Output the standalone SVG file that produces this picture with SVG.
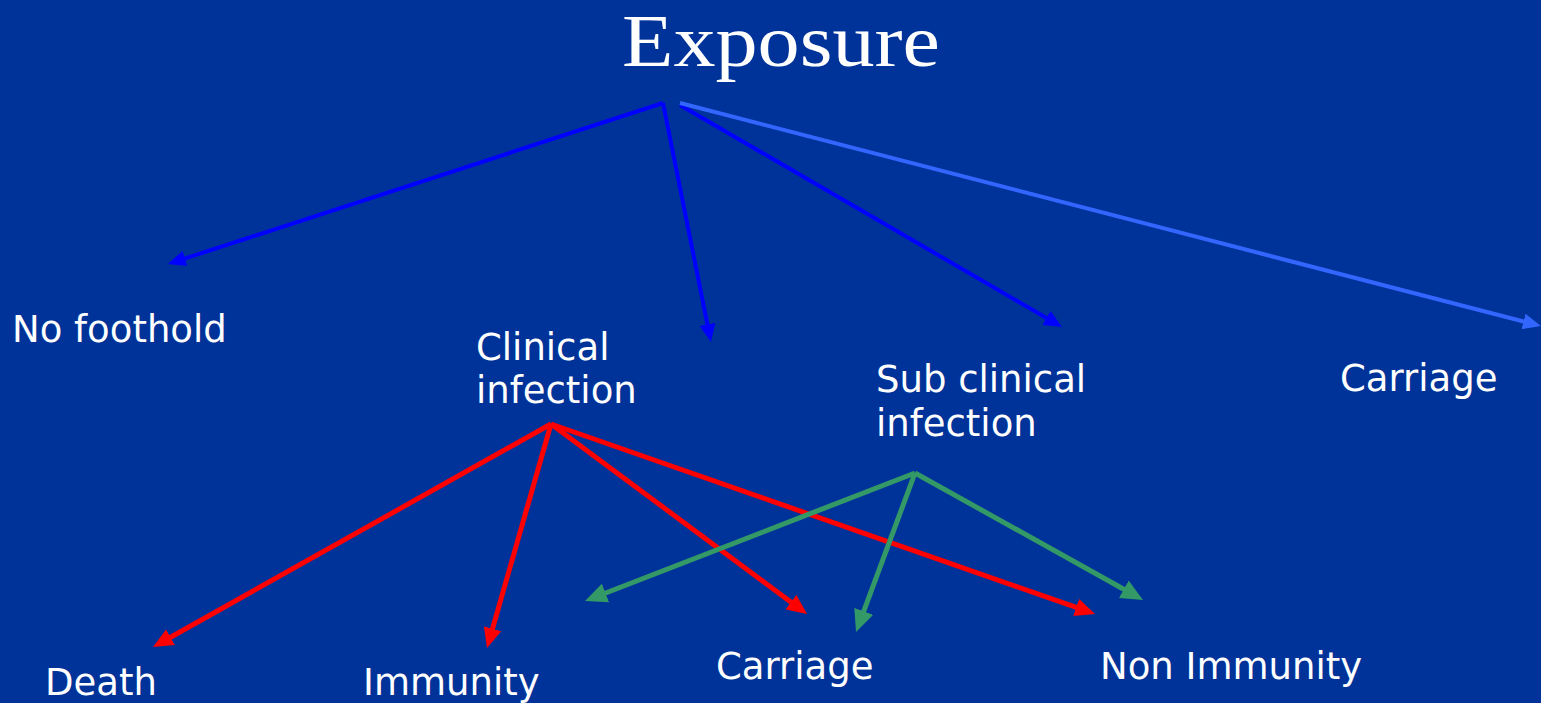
<svg xmlns="http://www.w3.org/2000/svg" width="1541" height="703" viewBox="0 0 1541 703">
  <style>
    .label { font-family: "DejaVu Sans", Verdana, sans-serif; font-size: 37px; fill: #ffffff; }
    .title { font-family: "Liberation Serif", "Times New Roman", serif; font-size: 74px; fill: #ffffff; }
    .blue { stroke: #0000ff; stroke-width: 4; fill: none; marker-end: url(#arrow-blue); }
    .lblue { stroke: #3366ff; stroke-width: 4; fill: none; marker-end: url(#arrow-lblue); }
    .red { stroke: #ff0000; stroke-width: 5; fill: none; marker-end: url(#arrow-red); }
    .green { stroke: #339966; stroke-width: 5; fill: none; marker-end: url(#arrow-green); }
  </style>
  <defs>
    <marker id="arrow-blue" markerUnits="userSpaceOnUse" markerWidth="18" markerHeight="16" refX="4" refY="8" orient="auto">
      <path d="M0,0 L18,8 L0,16 z" fill="#0000ff"/>
    </marker>
    <marker id="arrow-lblue" markerUnits="userSpaceOnUse" markerWidth="18" markerHeight="16" refX="4" refY="8" orient="auto">
      <path d="M0,0 L18,8 L0,16 z" fill="#3366ff"/>
    </marker>
    <marker id="arrow-red" markerUnits="userSpaceOnUse" markerWidth="20" markerHeight="18" refX="4" refY="9" orient="auto">
      <path d="M0,0 L20,9 L0,18 z" fill="#ff0000"/>
    </marker>
    <marker id="arrow-green" markerUnits="userSpaceOnUse" markerWidth="22" markerHeight="20" refX="4" refY="10" orient="auto">
      <path d="M0,0 L22,10 L0,20 z" fill="#339966"/>
    </marker>
  </defs>

  <rect width="1541" height="703" fill="#003399"/>

  <g id="connectors">
    <line class="blue" x1="663" y1="103" x2="181.3" y2="259.7"/>
    <line class="blue" x1="663" y1="103" x2="708.2" y2="328.3"/>
    <line class="blue" x1="680" y1="105" x2="1049.9" y2="320"/>
    <line class="lblue" x1="680" y1="103" x2="1527.4" y2="322.5"/>
    <line class="red" x1="551" y1="424" x2="167" y2="639.2"/>
    <line class="red" x1="551" y1="424" x2="491.4" y2="632.6"/>
    <line class="red" x1="551" y1="424" x2="794.2" y2="604.5"/>
    <line class="red" x1="551" y1="424" x2="1079.9" y2="608.7"/>
    <line class="green" x1="915" y1="473" x2="601.8" y2="594.5"/>
    <line class="green" x1="915" y1="473" x2="862.3" y2="615.1"/>
    <line class="green" x1="915" y1="473" x2="1127.3" y2="591.2"/>
  </g>

  <g id="exposure"><text class="title" x="622" y="66" textLength="318" lengthAdjust="spacingAndGlyphs">Exposure</text></g>
  <g id="no-foothold"><text class="label" x="12" y="342">No foothold</text></g>
  <g id="clinical-infection">
    <text class="label" x="476" y="360">Clinical</text>
    <text class="label" x="476" y="403">infection</text>
  </g>
  <g id="sub-clinical-infection">
    <text class="label" x="876" y="392">Sub clinical</text>
    <text class="label" x="876" y="436">infection</text>
  </g>
  <g id="carriage-top"><text class="label" x="1340" y="391">Carriage</text></g>
  <g id="death"><text class="label" x="45" y="695">Death</text></g>
  <g id="immunity"><text class="label" x="363" y="695">Immunity</text></g>
  <g id="carriage-bottom"><text class="label" x="716" y="679">Carriage</text></g>
  <g id="non-immunity"><text class="label" x="1100" y="679">Non Immunity</text></g>
</svg>
